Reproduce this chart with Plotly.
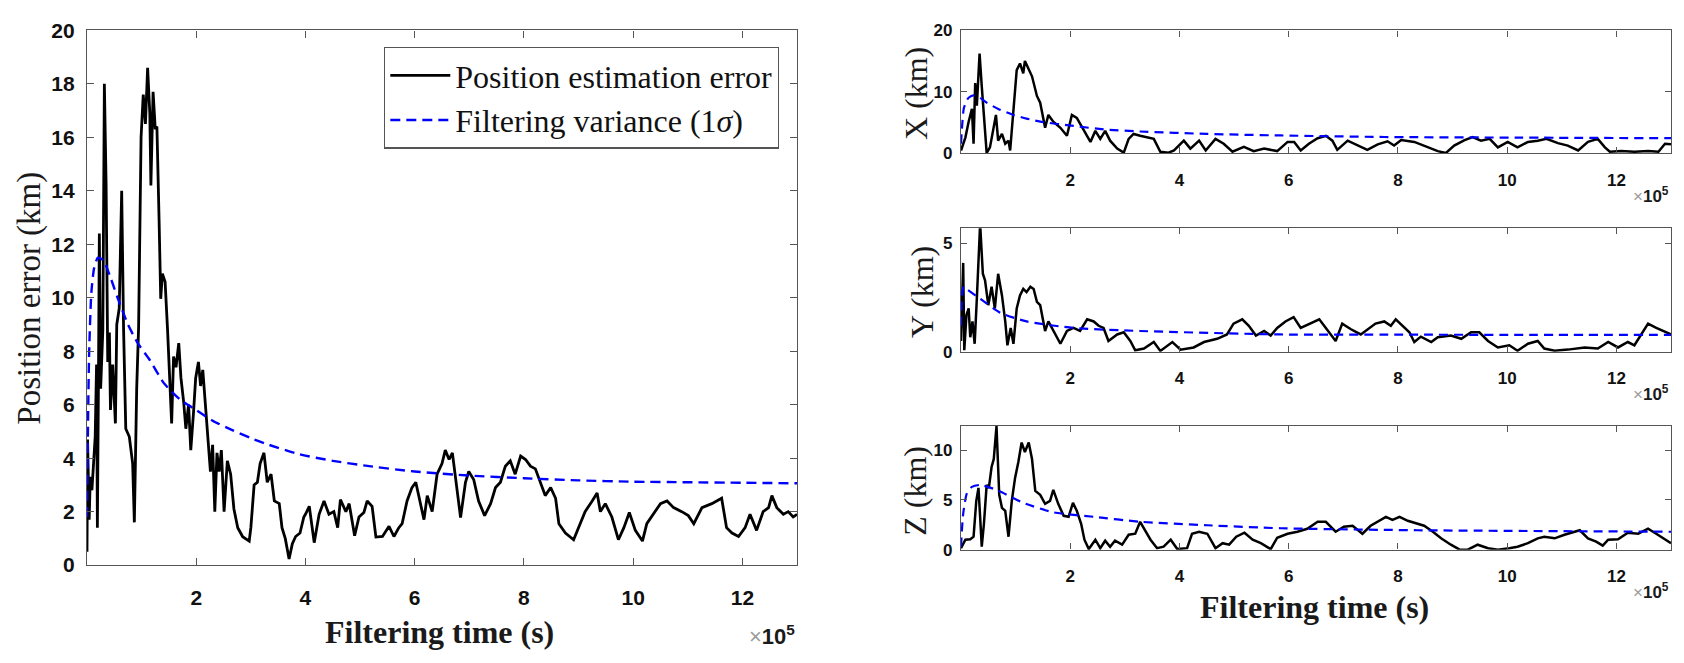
import plotly.graph_objects as go

# ---------------- data (time in units of 1e5 s, errors in km) ----------------
POS_ERR = [(0.00, 0.5), (0.01, 4.7), (0.04, 1.7), (0.06, 3.3), (0.09, 2.8), (0.15, 4.8), (0.175, 7.5),
           (0.19, 1.4), (0.21, 7.0), (0.226, 12.4), (0.25, 6.6), (0.29, 8.8), (0.318, 18.0), (0.35, 14.2),
           (0.38, 7.6), (0.41, 8.7), (0.43, 5.8), (0.47, 7.5), (0.52, 5.3), (0.545, 9.0), (0.59, 9.6),
           (0.635, 14.0), (0.67, 8.8), (0.71, 5.1), (0.775, 4.8), (0.836, 3.8), (0.867, 1.6), (0.91, 6.6),
           (0.945, 8.9), (0.99, 16.0), (1.03, 17.6), (1.07, 16.5), (1.11, 18.6), (1.15, 16.9), (1.17, 14.2),
           (1.21, 17.7), (1.25, 16.3), (1.28, 16.4), (1.32, 12.9), (1.35, 9.96), (1.38, 10.9), (1.43, 10.6),
           (1.475, 8.8), (1.51, 7.3), (1.55, 5.3), (1.585, 7.8), (1.63, 7.4), (1.68, 8.3), (1.72, 7.0),
           (1.77, 6.1), (1.81, 5.1), (1.86, 6.0), (1.90, 4.3), (1.95, 5.7), (1.99, 7.0), (2.04, 7.6),
           (2.08, 6.7), (2.12, 7.3), (2.18, 5.8), (2.22, 4.55), (2.26, 3.5), (2.30, 4.5), (2.34, 2.0),
           (2.38, 4.2), (2.42, 3.5), (2.46, 4.3), (2.51, 2.0), (2.57, 3.9), (2.63, 3.4), (2.69, 2.1),
           (2.76, 1.4), (2.85, 1.06), (2.97, 0.9), (3.00, 1.4), (3.06, 3.0), (3.12, 3.1), (3.17, 3.8),
           (3.24, 4.2), (3.30, 3.1), (3.37, 3.4), (3.43, 2.4), (3.52, 2.3), (3.57, 1.4), (3.63, 1.0),
           (3.70, 0.23), (3.76, 0.8), (3.82, 1.07), (3.90, 1.2), (3.97, 1.8), (4.00, 1.9), (4.07, 2.2),
           (4.16, 0.84), (4.25, 1.9), (4.34, 2.4), (4.43, 1.9), (4.52, 2.0), (4.59, 1.4), (4.64, 2.45),
           (4.74, 2.0), (4.80, 2.3), (4.90, 1.1), (4.98, 1.8), (5.07, 1.97), (5.13, 2.4), (5.22, 2.2),
           (5.29, 1.05), (5.41, 1.07), (5.53, 1.45), (5.62, 1.07), (5.71, 1.4), (5.77, 1.55), (5.86, 2.4),
           (5.95, 2.9), (6.02, 3.1), (6.11, 2.2), (6.17, 1.7), (6.23, 2.6), (6.32, 2.0), (6.41, 3.4),
           (6.50, 3.8), (6.56, 4.3), (6.63, 3.95), (6.69, 4.2), (6.75, 3.2), (6.84, 1.78), (6.93, 3.1),
           (6.99, 3.5), (7.08, 3.2), (7.17, 2.4), (7.28, 1.85), (7.39, 2.3), (7.48, 2.9), (7.57, 3.1),
           (7.66, 3.7), (7.75, 3.9), (7.84, 3.4), (7.94, 4.08), (8.03, 3.95), (8.12, 3.7), (8.21, 3.6),
           (8.30, 3.1), (8.39, 2.6), (8.49, 2.9), (8.58, 2.5), (8.64, 1.55), (8.76, 1.2), (8.91, 0.95),
           (9.00, 1.4), (9.12, 2.0), (9.25, 2.4), (9.34, 2.7), (9.40, 2.0), (9.49, 2.3), (9.61, 1.8),
           (9.73, 0.95), (9.83, 1.4), (9.93, 1.97), (10.04, 1.3), (10.17, 0.9), (10.25, 1.55), (10.37, 1.9),
           (10.50, 2.3), (10.62, 2.4), (10.74, 2.15), (10.89, 2.0), (11.01, 1.85), (11.11, 1.55),
           (11.26, 2.15), (11.44, 2.3), (11.62, 2.5), (11.71, 1.4), (11.81, 1.2), (11.93, 1.07),
           (12.05, 1.4), (12.14, 1.9), (12.26, 1.3), (12.38, 2.0), (12.48, 2.15), (12.54, 2.6),
           (12.63, 2.15), (12.75, 1.9), (12.84, 2.0), (12.93, 1.8), (13.0, 1.9)]

POS_SIG = [(0.0, 1.8), (0.02, 5.5), (0.04, 8.0), (0.08, 10.2), (0.13, 11.1), (0.2, 11.5), (0.3, 11.4),
           (0.44, 10.7), (0.56, 10.0), (0.75, 9.0), (0.93, 8.3), (1.14, 7.7), (1.41, 6.8), (1.7, 6.2),
           (2.0, 5.8), (2.3, 5.4), (2.66, 5.05), (3.0, 4.75), (3.33, 4.5), (3.88, 4.15), (4.5, 3.9),
           (5.1, 3.72), (6.0, 3.5), (7.0, 3.35), (8.0, 3.25), (9.0, 3.17), (10.0, 3.12), (11.0, 3.1),
           (12.0, 3.08), (13.0, 3.06)]

X_ERR = [(0, 0.4), (0.08, 2.5), (0.14, 5.1), (0.20, 7.2), (0.23, 1.5), (0.26, 11.4), (0.29, 7.7),
         (0.34, 16.2), (0.38, 10.9), (0.42, 6.2), (0.47, 0.0), (0.53, 0.9), (0.58, 3.6), (0.64, 6.2),
         (0.68, 2.0), (0.75, 3.1), (0.81, 1.5), (0.87, 2.0), (0.90, 0.4), (0.96, 7.2), (1.02, 13.5),
         (1.08, 14.6), (1.14, 13.0), (1.17, 15.0), (1.24, 13.5), (1.30, 12.5), (1.39, 9.3), (1.45, 8.2),
         (1.54, 4.1), (1.60, 6.2), (1.69, 5.1), (1.82, 4.1), (1.94, 2.8), (2.03, 6.2), (2.12, 5.7),
         (2.25, 3.6), (2.37, 1.8), (2.46, 3.6), (2.55, 2.3), (2.64, 3.6), (2.73, 2.0), (2.86, 0.7),
         (2.98, 0.05), (3.07, 2.3), (3.16, 3.1), (3.28, 2.8), (3.41, 2.5), (3.53, 2.3), (3.65, 0.2),
         (3.80, 0.05), (3.90, 0.4), (4.08, 2.0), (4.20, 0.7), (4.36, 2.0), (4.48, 0.4), (4.66, 2.3),
         (4.81, 1.5), (4.97, 0.2), (5.18, 1.0), (5.36, 0.3), (5.55, 0.7), (5.79, 0.3), (5.98, 1.8),
         (6.10, 1.8), (6.22, 0.4), (6.37, 1.5), (6.53, 2.4), (6.68, 2.8), (6.80, 2.0), (6.89, 0.5),
         (7.08, 2.0), (7.26, 1.2), (7.44, 0.5), (7.63, 1.4), (7.81, 1.9), (7.93, 1.2), (8.06, 2.1),
         (8.30, 1.8), (8.54, 0.9), (8.73, 0.3), (8.88, 0.0), (9.03, 1.2), (9.22, 2.1), (9.37, 2.6),
         (9.52, 2.0), (9.68, 2.3), (9.83, 0.9), (10.01, 1.8), (10.19, 0.9), (10.38, 1.8), (10.56, 2.0),
         (10.72, 2.3), (10.93, 1.6), (11.11, 1.2), (11.30, 0.4), (11.48, 1.8), (11.66, 2.3), (11.79, 0.9),
         (11.88, 0.2), (12.09, 0.3), (12.33, 0.2), (12.58, 0.3), (12.77, 0.2), (12.89, 1.5), (13.0, 1.4)]

X_SIG = [(0, 1.5), (0.05, 7.2), (0.1, 8.5), (0.14, 9.0), (0.23, 9.4), (0.35, 9.0), (0.47, 8.2), (0.7, 7.1),
         (0.96, 6.2), (1.2, 5.6), (1.45, 5.1), (2.06, 4.4), (2.67, 3.8), (3.28, 3.5), (4.5, 3.1),
         (5.85, 2.85), (7.75, 2.6), (10.2, 2.5), (13.0, 2.4)]

Y_ERR = [(0, 0.5), (0.04, 4.1), (0.06, 0.07), (0.10, 1.7), (0.14, 2.0), (0.17, 0.67), (0.21, 1.4),
         (0.25, 0.37), (0.29, 2.45), (0.35, 5.9), (0.40, 3.6), (0.44, 3.3), (0.50, 2.15), (0.56, 3.0),
         (0.62, 2.0), (0.68, 3.6), (0.75, 2.6), (0.81, 1.4), (0.85, 0.3), (0.91, 1.1), (0.96, 0.37),
         (1.02, 2.0), (1.08, 2.6), (1.14, 2.9), (1.20, 2.75), (1.27, 3.0), (1.33, 2.9), (1.39, 2.3),
         (1.45, 2.15), (1.54, 0.96), (1.60, 1.4), (1.69, 0.96), (1.82, 0.37), (1.94, 0.96), (2.06, 1.1),
         (2.18, 0.96), (2.31, 1.5), (2.43, 1.4), (2.52, 1.2), (2.61, 1.1), (2.70, 0.5), (2.86, 0.8),
         (2.98, 0.9), (3.10, 0.5), (3.19, 0.07), (3.35, 0.15), (3.53, 0.45), (3.65, 0.04), (3.87, 0.45),
         (4.02, 0.1), (4.26, 0.2), (4.45, 0.45), (4.54, 0.5), (4.69, 0.6), (4.87, 0.8), (4.99, 1.3),
         (5.15, 1.5), (5.27, 1.2), (5.40, 0.75), (5.55, 0.96), (5.67, 0.75), (5.79, 1.1), (5.94, 1.4),
         (6.09, 1.6), (6.22, 1.1), (6.40, 1.3), (6.56, 1.5), (6.68, 1.1), (6.86, 0.5), (6.98, 1.3),
         (7.14, 1.04), (7.32, 0.8), (7.44, 1.04), (7.59, 1.3), (7.75, 1.4), (7.87, 1.2), (7.96, 1.5),
         (8.12, 1.1), (8.21, 0.9), (8.30, 0.45), (8.42, 0.7), (8.61, 0.45), (8.73, 0.67), (8.97, 0.75),
         (9.16, 0.6), (9.34, 0.9), (9.49, 0.9), (9.65, 0.5), (9.83, 0.2), (10.04, 0.3), (10.19, 0.05),
         (10.38, 0.37), (10.56, 0.5), (10.68, 0.15), (10.87, 0.05), (11.11, 0.1), (11.42, 0.2),
         (11.66, 0.15), (11.85, 0.45), (12.03, 0.2), (12.21, 0.45), (12.33, 0.3), (12.46, 0.8),
         (12.58, 1.3), (12.73, 1.1), (12.89, 0.9), (13.0, 0.8)]

Y_SIG = [(0, 1.2), (0.02, 2.6), (0.05, 3.0), (0.1, 2.9), (0.35, 2.45), (0.72, 1.8), (1.2, 1.4),
         (2.06, 1.1), (3.28, 0.96), (5.85, 0.8), (8.0, 0.79), (10.5, 0.78), (13.0, 0.78)]

Z_ERR = [(0, 0.15), (0.08, 1.0), (0.17, 1.04), (0.23, 1.3), (0.28, 4.9), (0.32, 6.2), (0.35, 3.3),
         (0.38, 0.3), (0.42, 2.6), (0.47, 6.5), (0.51, 6.2), (0.56, 8.3), (0.60, 9.1), (0.65, 12.4),
         (0.70, 5.5), (0.75, 4.2), (0.81, 3.9), (0.87, 1.3), (0.93, 4.9), (0.99, 7.2), (1.05, 8.8),
         (1.11, 10.75), (1.17, 9.8), (1.24, 10.75), (1.30, 9.1), (1.36, 5.9), (1.45, 5.5), (1.54, 4.6),
         (1.63, 4.9), (1.69, 6.0), (1.78, 4.6), (1.88, 3.4), (1.97, 3.3), (2.05, 4.7), (2.12, 3.9),
         (2.20, 2.6), (2.26, 1.0), (2.34, 0.06), (2.46, 1.0), (2.55, 0.15), (2.64, 0.9), (2.73, 0.3),
         (2.82, 0.9), (2.95, 0.5), (3.07, 1.5), (3.19, 1.6), (3.28, 2.8), (3.38, 1.8), (3.47, 1.0),
         (3.59, 0.15), (3.71, 0.3), (3.84, 1.0), (3.96, 0.06), (4.14, 0.15), (4.23, 1.6), (4.36, 1.8),
         (4.51, 1.6), (4.66, 0.15), (4.79, 0.65), (4.91, 0.5), (5.04, 1.3), (5.19, 1.7), (5.34, 1.0),
         (5.49, 0.65), (5.67, 0.05), (5.79, 1.2), (5.98, 1.6), (6.16, 1.8), (6.34, 2.1), (6.53, 2.8),
         (6.68, 2.8), (6.86, 1.8), (7.01, 2.3), (7.17, 2.4), (7.35, 1.6), (7.50, 2.4), (7.66, 2.9),
         (7.78, 3.3), (7.90, 3.0), (8.03, 3.3), (8.18, 2.9), (8.36, 2.6), (8.48, 2.4), (8.64, 1.8),
         (8.79, 1.14), (8.97, 0.5), (9.13, 0.0), (9.28, 0.0), (9.46, 0.5), (9.65, 0.15), (9.83, 0.0),
         (10.04, 0.15), (10.19, 0.3), (10.38, 0.65), (10.56, 1.14), (10.68, 1.3), (10.87, 1.14),
         (11.05, 1.5), (11.17, 1.7), (11.33, 1.95), (11.48, 1.14), (11.63, 0.8), (11.75, 0.4),
         (11.85, 1.0), (12.03, 1.04), (12.21, 1.7), (12.40, 1.6), (12.58, 2.1), (12.73, 1.6),
         (12.89, 1.0), (13.0, 0.65)]

Z_SIG = [(0, 0.3), (0.04, 3.6), (0.11, 5.7), (0.2, 6.3), (0.35, 6.5), (0.65, 6.0), (1.14, 4.7),
         (1.69, 3.75), (2.43, 3.3), (3.28, 2.8), (4.51, 2.45), (5.85, 2.15), (8.36, 1.95), (13.0, 1.8)]

X_TICKS = [2, 4, 6, 8, 10, 12]
X_TICK_TEXT = ["2", "4", "6", "8", "10", "12"]
LEGEND_NAMES = ["Position estimation error", "Filtering variance (1<i>σ</i>)"]

W, H = 1684, 663


def px(x):
    return x / W


def py(y):
    return 1 - y / H


fig = go.Figure()


def add_pair(err, sig, xa, ya, w_err, w_sig, dash, show):
    fig.add_trace(go.Scatter(x=[p[0] for p in err], y=[p[1] for p in err], mode="lines",
                             line=dict(color="black", width=w_err), name=LEGEND_NAMES[0],
                             showlegend=show, xaxis=xa, yaxis=ya))
    fig.add_trace(go.Scatter(x=[p[0] for p in sig], y=[p[1] for p in sig], mode="lines",
                             line=dict(color="#0000ff", width=w_sig, dash=dash, shape="spline", smoothing=0.6),
                             name=LEGEND_NAMES[1], showlegend=show, xaxis=xa, yaxis=ya))


add_pair(POS_ERR, POS_SIG, "x", "y", 2.8, 2.4, "10px,6px", True)
add_pair(X_ERR, X_SIG, "x2", "y2", 2.5, 2.2, "9px,6px", False)
add_pair(Y_ERR, Y_SIG, "x3", "y3", 2.5, 2.2, "9px,6px", False)
add_pair(Z_ERR, Z_SIG, "x4", "y4", 2.5, 2.2, "9px,6px", False)

AX_COL = "#555555"


def axis(domain, rng, tickvals, ticktext, size, anchor, ticklen, standoff):
    d = dict(domain=domain, range=rng, showline=True, linecolor=AX_COL, linewidth=1.4,
             mirror="allticks", ticks="inside", ticklen=ticklen, tickwidth=1.2, tickcolor=AX_COL,
             showgrid=False, zeroline=False, tickvals=tickvals, anchor=anchor,
             ticklabelstandoff=standoff,
             tickfont=dict(family="Liberation Sans", size=size, color="#111111", weight="bold"))
    if ticktext is not None:
        d["ticktext"] = ticktext
    return d


fig.update_layout(
    xaxis=axis([px(87), px(797)], [0, 13], X_TICKS, X_TICK_TEXT, 21, "y", 7, 13),
    yaxis=axis([py(573), py(19)], [0, 20], list(range(0, 21, 2)), None, 21, "x", 7, 7),
    xaxis2=axis([px(961), px(1671)], [0, 13], X_TICKS, X_TICK_TEXT, 17, "y2", 6, 11),
    yaxis2=axis([py(146), py(19)], [0, 20], [0, 10, 20], None, 17, "x2", 6, 4),
    xaxis3=axis([px(961), px(1671)], [0, 13], X_TICKS, X_TICK_TEXT, 17, "y3", 6, 11),
    yaxis3=axis([py(352), py(224)], [0, 5.7], [0, 5], None, 17, "x3", 6, 4),
    xaxis4=axis([px(961), px(1671)], [0, 13], X_TICKS, X_TICK_TEXT, 17, "y4", 6, 11),
    yaxis4=axis([py(557), py(429)], [0, 12.4], [0, 5, 10], None, 17, "x4", 6, 4),
)

SERIF = "Liberation Serif"
ann = []


def add_ann(text, cx, cy, size, angle=0, family=SERIF, xanchor="center", yanchor="middle"):
    ann.append(dict(text=text, x=px(cx), y=py(cy), xref="paper", yref="paper", xanchor=xanchor,
                    yanchor=yanchor, textangle=angle, showarrow=False,
                    font=dict(family=family, size=size, color="#1a1a1a")))


# axis titles
add_ann("<b>Filtering time (s)</b>", 440, 642, 32)
add_ann("<b>Filtering time (s)</b>", 1314, 616, 32)
add_ann("Position error (km)", 30, 297, 33, angle=-90)
for lbl, cx, cy in [("X (km)", 916, 85), ("Y (km)", 922, 290), ("Z (km)", 915, 496)]:
    add_ann(lbl, cx, cy, 32, angle=-90)
# x10^5 exponent labels
EXP = "<span style='color:#9a9a9a'>×</span><b>10<sup>5</sup></b>"
add_ann(EXP, 797, 645, 22, family="Liberation Sans", xanchor="right")
for cy in [190, 395, 600]:
    add_ann(EXP, 1671, cy, 17, family="Liberation Sans", xanchor="right")

fig.update_layout(
    width=W, height=H, margin=dict(l=0, r=0, t=0, b=0),
    paper_bgcolor="white", plot_bgcolor="white",
    annotations=ann,
    legend=dict(x=px(779), xanchor="right", y=py(36), yanchor="top",
                bgcolor="white", bordercolor=AX_COL, borderwidth=1.3,
                font=dict(family=SERIF, size=32, color="#111"), tracegroupgap=0,
                itemwidth=60),
)

fig.write_html("out.html")
